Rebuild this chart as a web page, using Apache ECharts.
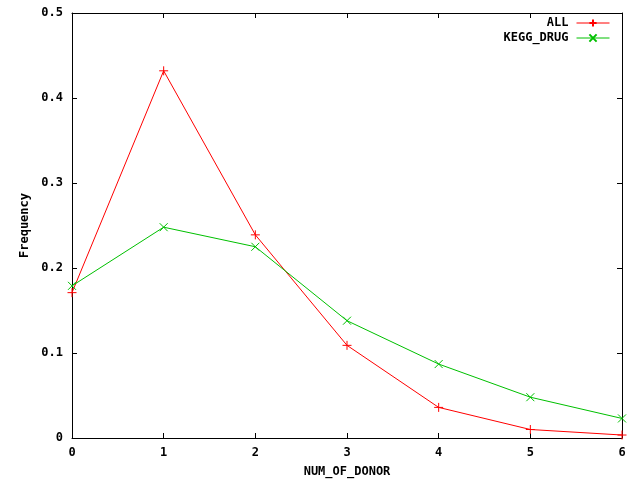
<!DOCTYPE html>
<html><head><meta charset="utf-8">
<script src="https://cdn.jsdelivr.net/npm/echarts@6/dist/echarts.min.js"></script>
<style>html,body{margin:0;padding:0;background:#fff}#c{width:640px;height:480px}</style>
</head><body><div id="c"></div>
<script>
const categories = [0, 1, 2, 3, 4, 5, 6];
const allValues = [0.171, 0.432, 0.239, 0.109, 0.036, 0.010, 0.0035];
const keggValues = [0.179, 0.248, 0.225, 0.138, 0.087, 0.048, 0.023];
const seriesNames = ['ALL', 'KEGG_DRUG'];
const xTitle = 'NUM_OF_DONOR';
const yTitle = 'Frequency';

const font = {fontFamily: 'DejaVu Sans Mono', fontWeight: 'bold', fontSize: 12, color: '#000'};
const plus = 'path://M0,5L10,5M5,0L5,10';
const cross = 'path://M0,0L10,10M10,0L0,10';
const chart = echarts.init(document.getElementById('c'), null, {renderer: 'canvas'});
const axisLine = {show: true, onZero: false, lineStyle: {color: '#000', width: 1}};
const tick = {show: true, inside: true, length: 5, lineStyle: {color: '#000'}};
chart.setOption({
  animation: false,
  backgroundColor: '#fff',
  grid: {left: 72, right: 18, top: 13, bottom: 42, containLabel: false, outerBoundsMode: 'none'},
  legend: {
    orient: 'vertical', right: 25, top: 12, align: 'right',
    itemWidth: 33, itemHeight: 9, itemGap: 3,
    textStyle: Object.assign({padding: [0, 3, 0, 0]}, font),
    lineStyle: {width: 1},
    data: seriesNames
  },
  xAxis: [
    {type: 'value', min: 0, max: 6, interval: 1, axisLine, axisTick: tick,
     axisLabel: Object.assign({margin: 9}, font), splitLine: {show: false},
     name: xTitle, nameLocation: 'middle', nameGap: 28, nameTextStyle: font},
    {type: 'value', position: 'top', min: 0, max: 6, interval: 1, axisLine, axisTick: tick,
     axisLabel: {show: false}, splitLine: {show: false}}
  ],
  yAxis: [
    {type: 'value', min: 0, max: 0.5, interval: 0.1, axisLine, axisTick: tick,
     axisLabel: Object.assign({margin: 9}, font), splitLine: {show: false},
     name: yTitle, nameLocation: 'middle', nameGap: 41, nameRotate: 90, nameTextStyle: font},
    {type: 'value', position: 'right', min: 0, max: 0.5, interval: 0.1, axisLine, axisTick: tick,
     axisLabel: {show: false}, splitLine: {show: false}}
  ],
  series: [
    {name: seriesNames[0], type: 'line', data: categories.map((c, i) => [c, allValues[i]]),
     symbol: plus, symbolSize: 9, showAllSymbol: true,
     lineStyle: {color: '#ff0000', width: 1},
     itemStyle: {color: '#ff0000', borderColor: '#ff0000', borderWidth: 1}},
    {name: seriesNames[1], type: 'line', data: categories.map((c, i) => [c, keggValues[i]]),
     symbol: cross, symbolSize: 8, showAllSymbol: true,
     lineStyle: {color: '#00c000', width: 1},
     itemStyle: {color: '#00c000', borderColor: '#00c000', borderWidth: 1}}
  ]
});
</script></body></html>
